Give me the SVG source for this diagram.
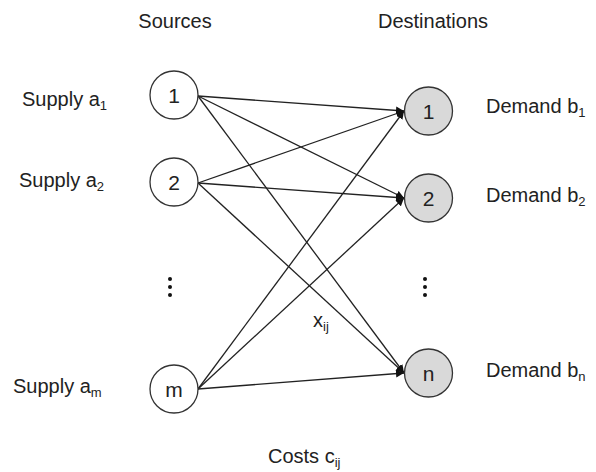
<svg xmlns="http://www.w3.org/2000/svg" width="596" height="472" viewBox="0 0 596 472">
<style>
text{font-family:"Liberation Sans",Arial,sans-serif;font-size:20px;fill:#222}
.sub{font-size:13px}
.num{font-size:21px}
.src{fill:#fff;stroke:#333;stroke-width:1.3}
.dst{fill:#d9d9d9;stroke:#333;stroke-width:1.3}
.lbl{text-anchor:middle}
.edge{stroke:#222;stroke-width:1.3;fill:none;marker-end:url(#ah)}
</style>
<defs>
<marker id="ah" viewBox="0 0 10 10" refX="10" refY="5" markerWidth="8" markerHeight="8" markerUnits="userSpaceOnUse" orient="auto">
<path d="M0,0 L10,5 L0,10 z" fill="#111"/>
</marker>
</defs>
<rect width="596" height="472" fill="#fff"/>
<text x="175" y="28" class="lbl">Sources</text>
<text x="433" y="28" class="lbl">Destinations</text>
<g id="connectors">
<line class="edge" x1="198" y1="96" x2="404" y2="111"/>
<line class="edge" x1="198" y1="96" x2="404" y2="198"/>
<line class="edge" x1="198" y1="96" x2="404" y2="373"/>
<line class="edge" x1="198" y1="183" x2="404" y2="111"/>
<line class="edge" x1="198" y1="183" x2="404" y2="198"/>
<line class="edge" x1="198" y1="183" x2="404" y2="373"/>
<line class="edge" x1="198" y1="389" x2="404" y2="111"/>
<line class="edge" x1="198" y1="389" x2="404" y2="198"/>
<line class="edge" x1="198" y1="389" x2="404" y2="373"/>
</g>
<g id="s1"><circle class="src" cx="174" cy="95" r="24"/><text x="174" y="102.5" class="lbl num">1</text></g>
<g id="s2"><circle class="src" cx="174" cy="182" r="24"/><text x="174" y="189.5" class="lbl num">2</text></g>
<g id="sm"><circle class="src" cx="174" cy="389" r="24"/><text x="174" y="396.5" class="lbl num">m</text></g>
<g id="d1"><circle class="dst" cx="428.5" cy="111" r="24"/><text x="428.5" y="118.5" class="lbl num">1</text></g>
<g id="d2"><circle class="dst" cx="428.5" cy="198" r="24"/><text x="428.5" y="205.5" class="lbl num">2</text></g>
<g id="dn"><circle class="dst" cx="428.5" cy="373" r="24"/><text x="428.5" y="380.5" class="lbl num">n</text></g>
<g id="supply">
<text x="22" y="106">Supply a<tspan class="sub" dy="4">1</tspan></text>
<text x="19" y="187">Supply a<tspan class="sub" dy="4">2</tspan></text>
<text x="13" y="393">Supply a<tspan class="sub" dy="4">m</tspan></text>
</g>
<g id="demand">
<text x="486" y="113">Demand b<tspan class="sub" dy="4">1</tspan></text>
<text x="486" y="202">Demand b<tspan class="sub" dy="4">2</tspan></text>
<text x="486" y="377">Demand b<tspan class="sub" dy="4">n</tspan></text>
</g>
<g id="dots" fill="#111">
<circle cx="170" cy="279" r="2"/><circle cx="170" cy="287" r="2"/><circle cx="170" cy="295" r="2"/>
<circle cx="425" cy="279" r="2"/><circle cx="425" cy="287" r="2"/><circle cx="425" cy="295" r="2"/>
</g>
<text x="313" y="327">x<tspan class="sub" dy="4">ij</tspan></text>
<text x="268" y="463">Costs c<tspan class="sub" dy="4">ij</tspan></text>
</svg>
